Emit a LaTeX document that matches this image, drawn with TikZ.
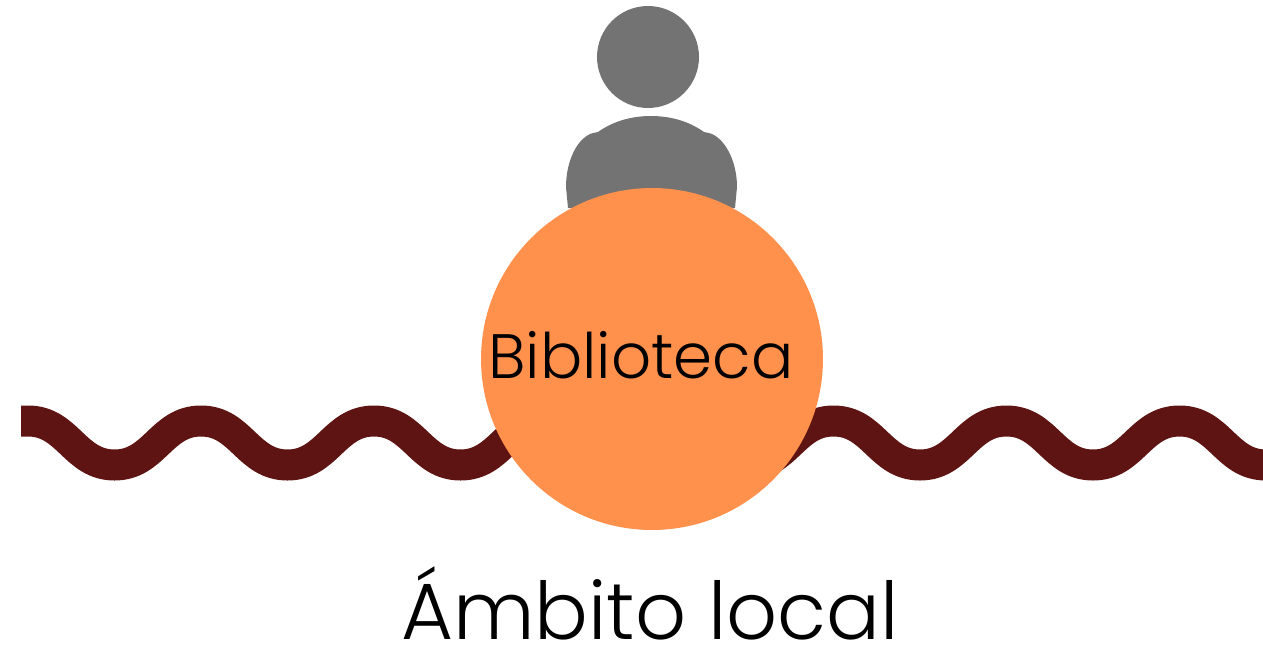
\documentclass[tikz,border=0pt]{standalone}
\usepackage{fontspec}
\setmainfont{Poppins}[UprightFont=* Light]
\usepackage{tikz}
\definecolor{naranja}{HTML}{FF914D}
\definecolor{granate}{HTML}{5E1412}
\definecolor{gris}{HTML}{737373}
\tikzset{onda/.style={draw=granate, line width=0.62cm}}

\begin{document}
\begin{tikzpicture}
	\begin{scope}[x=0.02cm,y=-0.02cm]
	\clip (0,0) rectangle (1263,646);
	% ondas
	\draw[onda] (21,421) -- (28,421) \foreach \i in {1,2,3} { .. controls +(40,0) and +(-40,0) .. ++(86.5,44) .. controls +(40,0) and +(-40,0) .. ++(86.5,-44) };
	\draw[onda] (747,465) .. controls +(40,0) and +(-40,0) .. ++(86.5,-44) \foreach \i in {1,2,3} { .. controls +(40,0) and +(-40,0) .. ++(86.5,44) .. controls +(40,0) and +(-40,0) .. ++(86.5,-44) };
	% persona
	\node (H) at (648,57) [circle, fill=gris, inner sep=0pt, minimum size=2.04cm] {};
	\fill[gris] (568,208) -- (566,187) .. controls (566,160) and (578,137) .. (593,133) -- (598,132) .. controls (612,122) and (630,116) .. (651,116) .. controls (672,116) and (690,122) .. (704,132) -- (709,133) .. controls (724,137) and (737,160) .. (737,187) -- (735,208) -- cycle;
	% nodos
	\node (B) at (652,359) [circle, fill=naranja, inner sep=0pt, minimum size=6.84cm] {};
	\node (T1) at (641,355) [inner sep=0pt] {\fontsize{35.7}{40}\selectfont Biblioteca};
	\node (T2) at (650,603) [inner sep=0pt] {\fontsize{45.4}{50}\selectfont Ámbito local};
	\end{scope}
\end{tikzpicture}
\end{document}
